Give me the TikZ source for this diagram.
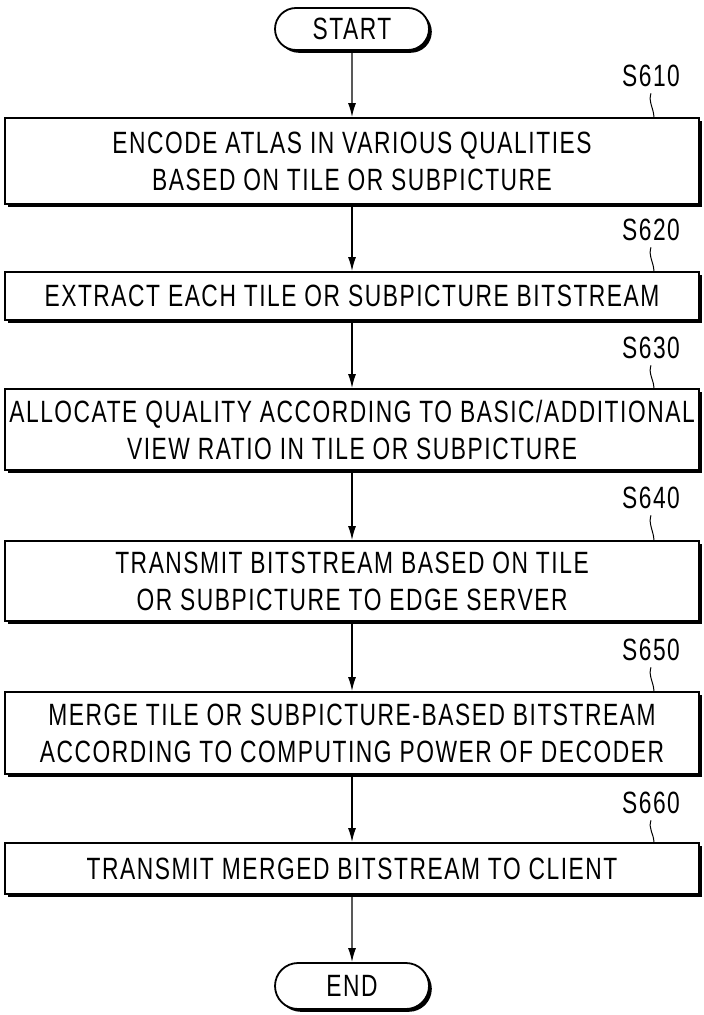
\documentclass[tikz,border=0pt]{standalone}
\usepackage{fontspec}
\setmainfont{Liberation Sans}[FakeStretch=0.74, LetterSpace=5]
\usetikzlibrary{shapes.misc}
\usetikzlibrary{shadows}
\usetikzlibrary{arrows.meta}
\tikzstyle{stepbox}=[draw, line width=0.9pt, fill=white, minimum width=347pt, inner sep=0pt, align=center, font=\fontsize{15.4}{18.5}\selectfont, drop shadow={shadow xshift=1.4pt, shadow yshift=-1.4pt, opacity=1, fill=black}]
\tikzstyle{term}=[stepbox, rounded rectangle, minimum width=77pt, minimum height=21pt]
\tikzstyle{steplabel}=[inner sep=0pt, font=\fontsize{15.4}{18.5}\selectfont]
\tikzstyle{flow}=[line width=0.7pt, -{Latex[length=7pt, width=4pt]}]
\tikzstyle{tick}=[line width=0.5pt]

\begin{document}
\begin{tikzpicture}[x=0.5pt, y=-0.5pt]
        \useasboundingbox (0,0) rectangle (703,1015);
        \node[term] (start) at (352,29) {START};
        \node[stepbox, minimum height=43pt] (s610) at (352,161) {ENCODE ATLAS IN VARIOUS QUALITIES\\BASED ON TILE OR SUBPICTURE};
        \node[stepbox, minimum height=24pt] (s620) at (352,296) {EXTRACT EACH TILE OR SUBPICTURE BITSTREAM};
        \node[stepbox, minimum height=40.5pt] (s630) at (352,429.5) {ALLOCATE QUALITY ACCORDING TO BASIC/ADDITIONAL\\VIEW RATIO IN TILE OR SUBPICTURE};
        \node[stepbox, minimum height=40pt] (s640) at (352,581) {TRANSMIT BITSTREAM BASED ON TILE\\OR SUBPICTURE TO EDGE SERVER};
        \node[stepbox, minimum height=41pt] (s650) at (352,733) {MERGE TILE OR SUBPICTURE-BASED BITSTREAM\\ACCORDING TO COMPUTING POWER OF DECODER};
        \node[stepbox, minimum height=25.5pt] (s660) at (352,868.5) {TRANSMIT MERGED BITSTREAM TO CLIENT};
        \node[term, minimum height=23pt] (end) at (352,986) {END};

        % step numbers
        \node[steplabel] (l610) at (651,76) {S610};
        \node[steplabel] (l620) at (651,230) {S620};
        \node[steplabel] (l630) at (651,348) {S630};
        \node[steplabel] (l640) at (651,498) {S640};
        \node[steplabel] (l650) at (651,650) {S650};
        \node[steplabel] (l660) at (651,803) {S660};
        \draw[tick] ([xshift=-23pt]s610.north east) .. controls +(0,4pt) and +(-1.5pt,-4pt) .. ([yshift=-3pt]l610.south);
        \draw[tick] ([xshift=-23pt]s620.north east) .. controls +(0,4pt) and +(-1.5pt,-4pt) .. ([yshift=-3pt]l620.south);
        \draw[tick] ([xshift=-23pt]s630.north east) .. controls +(0,4pt) and +(-1.5pt,-4pt) .. ([yshift=-3pt]l630.south);
        \draw[tick] ([xshift=-23pt]s640.north east) .. controls +(0,4pt) and +(-1.5pt,-4pt) .. ([yshift=-3pt]l640.south);
        \draw[tick] ([xshift=-23pt]s650.north east) .. controls +(0,4pt) and +(-1.5pt,-4pt) .. ([yshift=-3pt]l650.south);
        \draw[tick] ([xshift=-23pt]s660.north east) .. controls +(0,4pt) and +(-1.5pt,-4pt) .. ([yshift=-3pt]l660.south);

        \draw[flow] (start) -- (s610);
        \draw[flow] (s610) -- (s620);
        \draw[flow] (s620) -- (s630);
        \draw[flow] (s630) -- (s640);
        \draw[flow] (s640) -- (s650);
        \draw[flow] (s650) -- (s660);
        \draw[flow] (s660) -- (end);
    \end{tikzpicture}
\end{document}
